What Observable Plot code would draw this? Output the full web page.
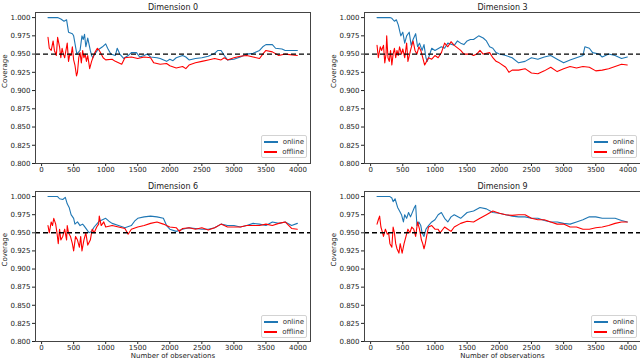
<!DOCTYPE html>
<html><head><meta charset="utf-8">
<script src="https://cdn.jsdelivr.net/npm/d3@7"></script>
<script src="https://cdn.jsdelivr.net/npm/@observablehq/plot@0.6"></script>
<style>
body{margin:0;background:#fff;font-family:"DejaVu Sans",sans-serif;}
#fig{position:relative;width:640px;height:362px;overflow:hidden;background:#fff;}
.panel{position:absolute;}
.legend{position:absolute;box-sizing:border-box;border:1px solid #d3d3d3;border-radius:2px;background:rgba(255,255,255,0.85);padding:1px 2px;font-family:"DejaVu Sans",sans-serif;font-size:7px;color:#333;}
.legend .row{display:flex;align-items:center;height:10px;}
.legend .sw{display:inline-block;width:14px;height:1.5px;margin-right:5px;}
</style>
</head><body>
<div id="fig"></div>
<script>
// ---- data ----
const titles = ["Dimension 0", "Dimension 3", "Dimension 6", "Dimension 9"];
const seriesNames = ["online", "offline"];
const seriesColors = ["#1f77b4", "#ff0000"];
const xTicks = [0, 500, 1000, 1500, 2000, 2500, 3000, 3500, 4000];
const yTicks = [0.800, 0.825, 0.850, 0.875, 0.900, 0.925, 0.950, 0.975, 1.000];
const target = 0.95;
const xLabel = "Number of observations";
const yLabel = "Coverage";

const dim0Online = [[100,1.000],[250,1.000],[300,0.998],[350,0.995],[390,0.997],[420,0.980],[480,0.978],[500,0.975],[530,0.960],[550,0.950],[600,0.955],[630,0.975],[650,0.970],[670,0.977],[690,0.960],[720,0.972],[760,0.955],[780,0.948],[800,0.945],[830,0.950],[870,0.955],[900,0.957],[950,0.960],[1000,0.964],[1030,0.958],[1080,0.950],[1150,0.948],[1180,0.958],[1220,0.950],[1280,0.944],[1350,0.948],[1400,0.952],[1480,0.952],[1530,0.946],[1600,0.948],[1650,0.950],[1700,0.946],[1800,0.945],[1850,0.944],[1950,0.940],[2000,0.943],[2050,0.941],[2100,0.945],[2200,0.948],[2250,0.946],[2300,0.942],[2400,0.944],[2500,0.945],[2600,0.947],[2700,0.951],[2750,0.955],[2800,0.955],[2850,0.948],[2900,0.942],[3000,0.943],[3100,0.946],[3200,0.950],[3300,0.951],[3400,0.955],[3450,0.960],[3500,0.963],[3600,0.963],[3650,0.958],[3750,0.957],[3800,0.955],[3990,0.955]];
const dim0Offline = [[100,0.973],[120,0.958],[150,0.955],[180,0.968],[200,0.955],[230,0.948],[250,0.973],[280,0.960],[300,0.945],[320,0.958],[340,0.950],[360,0.945],[380,0.955],[400,0.965],[420,0.940],[440,0.950],[460,0.948],[480,0.960],[500,0.942],[520,0.935],[545,0.920],[560,0.925],[580,0.945],[600,0.952],[620,0.938],[640,0.955],[660,0.945],[680,0.950],[700,0.940],[720,0.948],[750,0.930],[780,0.940],[800,0.945],[830,0.952],[870,0.958],[900,0.955],[930,0.950],[960,0.945],[1000,0.942],[1100,0.943],[1150,0.940],[1200,0.938],[1250,0.936],[1300,0.945],[1400,0.946],[1500,0.944],[1600,0.946],[1700,0.945],[1750,0.938],[1850,0.936],[1950,0.937],[2000,0.934],[2100,0.931],[2200,0.933],[2250,0.930],[2300,0.935],[2400,0.938],[2500,0.940],[2600,0.942],[2700,0.944],[2800,0.942],[2850,0.945],[2900,0.942],[3000,0.945],[3100,0.947],[3200,0.948],[3300,0.946],[3400,0.944],[3450,0.950],[3500,0.955],[3600,0.953],[3700,0.948],[3800,0.950],[3990,0.948]];

const dim3Online = [[100,1.000],[300,1.000],[330,0.999],[370,0.995],[400,0.997],[430,0.990],[470,0.975],[500,0.980],[530,0.965],[560,0.975],[600,0.980],[630,0.962],[660,0.970],[700,0.978],[730,0.960],[760,0.965],[800,0.955],[830,0.963],[860,0.945],[880,0.940],[920,0.950],[950,0.958],[1000,0.955],[1100,0.960],[1150,0.958],[1200,0.965],[1300,0.962],[1350,0.968],[1400,0.965],[1450,0.963],[1500,0.968],[1550,0.970],[1600,0.970],[1680,0.975],[1750,0.972],[1800,0.968],[1850,0.960],[1900,0.958],[1950,0.952],[2000,0.950],[2100,0.948],[2200,0.945],[2300,0.938],[2400,0.940],[2500,0.945],[2600,0.943],[2700,0.946],[2800,0.948],[2900,0.943],[3000,0.938],[3100,0.942],[3200,0.945],[3300,0.948],[3330,0.960],[3400,0.958],[3450,0.952],[3550,0.950],[3600,0.946],[3700,0.950],[3800,0.948],[3900,0.944],[3990,0.946]];
const dim3Offline = [[100,0.962],[120,0.945],[150,0.960],[170,0.955],[200,0.962],[220,0.938],[240,0.950],[250,0.975],[270,0.945],[290,0.940],[310,0.955],[330,0.935],[350,0.950],[370,0.958],[390,0.945],[410,0.955],[430,0.948],[450,0.960],[480,0.950],[500,0.957],[530,0.945],[560,0.965],[580,0.940],[620,0.955],[660,0.968],[690,0.955],[720,0.950],[750,0.960],[780,0.955],[810,0.945],[840,0.935],[870,0.940],[900,0.945],[950,0.943],[1000,0.948],[1050,0.945],[1100,0.952],[1150,0.965],[1200,0.960],[1250,0.967],[1300,0.962],[1400,0.955],[1450,0.950],[1550,0.950],[1600,0.948],[1650,0.950],[1700,0.955],[1750,0.950],[1850,0.952],[1900,0.945],[1950,0.940],[2000,0.938],[2100,0.932],[2150,0.925],[2200,0.928],[2300,0.928],[2400,0.930],[2500,0.924],[2600,0.923],[2700,0.927],[2800,0.932],[2900,0.926],[3000,0.930],[3100,0.933],[3200,0.931],[3300,0.933],[3400,0.932],[3500,0.927],[3600,0.928],[3700,0.930],[3800,0.933],[3900,0.936],[3990,0.935]];

const dim6Online = [[100,1.000],[250,1.000],[280,0.997],[330,0.996],[370,0.999],[400,0.990],[430,0.985],[460,0.975],[500,0.970],[520,0.962],[560,0.965],[600,0.960],[640,0.962],[660,0.960],[700,0.955],[740,0.950],[780,0.952],[820,0.958],[860,0.962],[900,0.966],[950,0.968],[1000,0.970],[1050,0.966],[1100,0.963],[1200,0.960],[1300,0.957],[1400,0.960],[1450,0.966],[1500,0.970],[1600,0.972],[1700,0.973],[1800,0.972],[1900,0.970],[1950,0.960],[2000,0.955],[2100,0.952],[2200,0.955],[2300,0.957],[2400,0.956],[2500,0.955],[2600,0.955],[2700,0.957],[2800,0.962],[2900,0.960],[3000,0.960],[3100,0.958],[3200,0.960],[3300,0.963],[3400,0.962],[3500,0.960],[3600,0.965],[3700,0.963],[3800,0.965],[3900,0.960],[3990,0.963]];
const dim6Offline = [[100,0.960],[120,0.950],[150,0.965],[170,0.960],[190,0.970],[220,0.962],[240,0.950],[260,0.935],[280,0.955],[300,0.940],[330,0.945],[360,0.955],[390,0.940],[400,0.960],[420,0.950],[450,0.945],[480,0.935],[500,0.925],[530,0.945],[560,0.940],[590,0.930],[610,0.945],[630,0.925],[660,0.940],[690,0.950],[720,0.933],[760,0.940],[790,0.955],[820,0.950],[860,0.958],[890,0.962],[900,0.973],[930,0.960],[970,0.965],[1000,0.958],[1100,0.960],[1200,0.958],[1300,0.956],[1350,0.948],[1400,0.955],[1500,0.958],[1600,0.960],[1700,0.963],[1800,0.965],[1900,0.962],[2000,0.958],[2100,0.957],[2150,0.952],[2200,0.956],[2300,0.957],[2400,0.955],[2500,0.957],[2600,0.954],[2700,0.957],[2800,0.962],[2900,0.958],[3000,0.958],[3100,0.958],[3200,0.960],[3300,0.960],[3400,0.960],[3500,0.962],[3600,0.960],[3700,0.963],[3800,0.965],[3900,0.956],[3990,0.955]];

const dim9Online = [[100,1.000],[300,1.000],[330,0.998],[350,0.993],[380,0.997],[420,0.985],[450,0.980],[480,0.975],[510,0.965],[530,0.975],[560,0.970],[590,0.978],[620,0.972],[680,0.985],[700,0.988],[720,0.960],[750,0.965],[780,0.960],[800,0.950],[830,0.945],[860,0.955],[900,0.960],[950,0.965],[1000,0.968],[1050,0.975],[1100,0.978],[1150,0.970],[1200,0.965],[1250,0.972],[1300,0.975],[1400,0.970],[1500,0.978],[1600,0.980],[1700,0.985],[1800,0.983],[1900,0.978],[2000,0.977],[2100,0.975],[2200,0.973],[2300,0.972],[2400,0.972],[2500,0.970],[2600,0.970],[2700,0.967],[2800,0.965],[2900,0.965],[3000,0.963],[3100,0.962],[3200,0.965],[3300,0.968],[3400,0.972],[3500,0.972],[3600,0.970],[3700,0.970],[3800,0.970],[3900,0.967],[3990,0.965]];
const dim9Offline = [[100,0.962],[120,0.968],[140,0.973],[160,0.958],[180,0.952],[200,0.945],[230,0.955],[260,0.948],[280,0.950],[300,0.935],[330,0.930],[350,0.958],[370,0.950],[390,0.935],[410,0.928],[440,0.922],[460,0.935],[490,0.922],[520,0.935],[550,0.945],[580,0.955],[610,0.950],[640,0.958],[670,0.955],[700,0.945],[730,0.965],[760,0.955],[790,0.940],[810,0.935],[830,0.928],[850,0.935],[870,0.945],[900,0.958],[950,0.960],[1000,0.955],[1050,0.955],[1080,0.950],[1150,0.958],[1200,0.955],[1250,0.952],[1300,0.958],[1400,0.963],[1500,0.966],[1600,0.965],[1700,0.970],[1800,0.975],[1900,0.980],[2000,0.977],[2100,0.975],[2200,0.974],[2300,0.975],[2400,0.975],[2500,0.970],[2600,0.968],[2700,0.968],[2800,0.965],[2900,0.962],[3000,0.962],[3100,0.958],[3200,0.958],[3300,0.955],[3400,0.955],[3500,0.957],[3600,0.958],[3700,0.960],[3800,0.963],[3900,0.965],[3990,0.965]];

const onlineSets = [dim0Online, dim3Online, dim6Online, dim9Online];
const offlineSets = [dim0Offline, dim3Offline, dim6Offline, dim9Offline];

// ---- layout ----
const layout = [
  {left:0,   top:0,   h:178, ml:35, mr:10, mt:12, mb:15, xlab:false, leg:[261,135]},
  {left:320, top:0,   h:178, ml:44, mr:0,  mt:12, mb:15, xlab:false, leg:[591,135]},
  {left:0,   top:178, h:184, ml:35, mr:10, mt:13, mb:21, xlab:true,  leg:[261,315]},
  {left:320, top:178, h:184, ml:44, mr:0,  mt:13, mb:21, xlab:true,  leg:[591,315]}
];

const fig = document.getElementById("fig");
const toRows = arr => arr.map(([x, y]) => ({x, y}));

titles.forEach((title, i) => {
  const L = layout[i];
  const marks = [
    Plot.axisX({ticks: xTicks, tickSize: 3, tickPadding: 1, tickFormat: d => String(d), label: null, fontSize: 7}),
    Plot.axisY({ticks: yTicks, tickSize: 3, tickPadding: 2, tickFormat: d3.format(".3f"), label: null, fontSize: 7}),
    Plot.line(toRows(onlineSets[i]), {x: "x", y: "y", stroke: seriesColors[0], strokeWidth: 1.1}),
    Plot.line(toRows(offlineSets[i]), {x: "x", y: "y", stroke: seriesColors[1], strokeWidth: 1.1}),
    Plot.ruleY([target], {stroke: "#000", strokeWidth: 1.4, strokeDasharray: "5,3"}),
    Plot.frame({stroke: "#444", strokeWidth: 1}),
    Plot.text([title], {frameAnchor: "top", dy: -3, lineAnchor: "bottom", fontSize: 8, fill: "#222"}),
    Plot.text([yLabel], {frameAnchor: "left", dx: -31, rotate: -90, fontSize: 7, fill: "#222"})
  ];
  if (L.xlab) marks.push(Plot.text([xLabel], {frameAnchor: "bottom", dy: 16.5, fontSize: 7, fill: "#222"}));
  const chart = Plot.plot({
    width: 320, height: L.h,
    marginLeft: L.ml, marginRight: L.mr, marginTop: L.mt, marginBottom: L.mb,
    style: {fontFamily: "DejaVu Sans, sans-serif", color: "#222", background: "transparent", overflow: "visible"},
    x: {domain: [-95, 4195]},
    y: {domain: [0.8, 1.007]},
    marks
  });
  const wrap = document.createElement("div");
  wrap.className = "panel";
  wrap.style.left = L.left + "px";
  wrap.style.top = L.top + "px";
  wrap.appendChild(chart);
  fig.appendChild(wrap);

  const leg = document.createElement("div");
  leg.className = "legend";
  leg.style.left = L.leg[0] + "px";
  leg.style.top = L.leg[1] + "px";
  leg.style.width = "46px";
  leg.style.height = "23px";
  seriesNames.forEach((name, k) => {
    const row = document.createElement("div");
    row.className = "row";
    const sw = document.createElement("span");
    sw.className = "sw";
    sw.style.background = seriesColors[k];
    row.appendChild(sw);
    row.appendChild(document.createTextNode(name));
    leg.appendChild(row);
  });
  fig.appendChild(leg);
});
</script>
</body></html>
